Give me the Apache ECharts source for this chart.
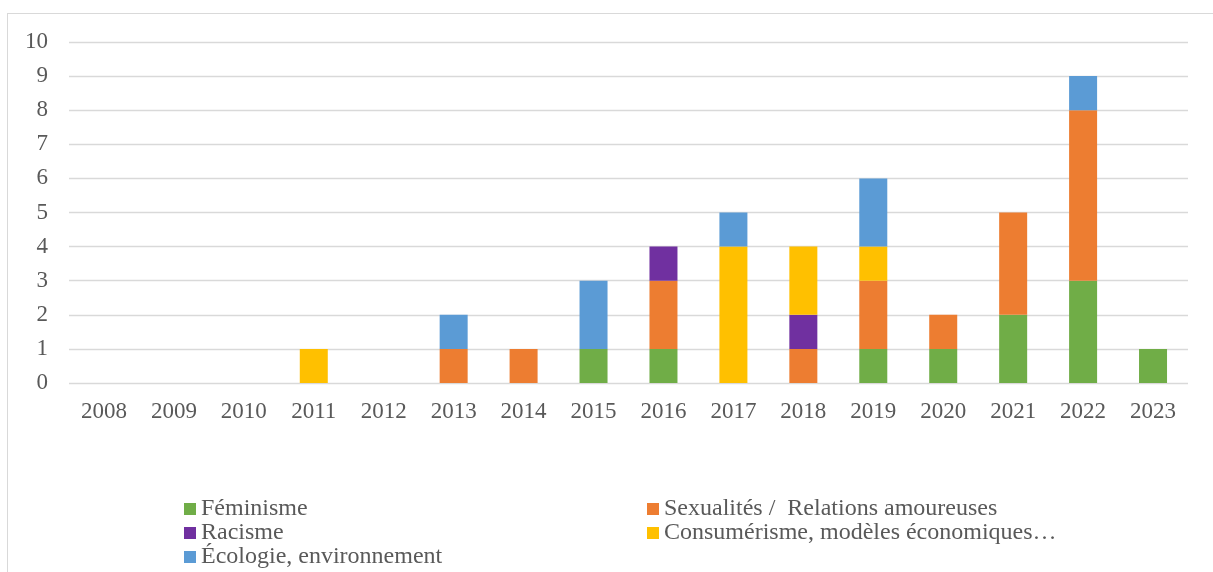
<!DOCTYPE html>
<html><head><meta charset="utf-8">
<script src="https://cdn.jsdelivr.net/npm/echarts@6/dist/echarts.min.js"></script>
<style>html,body{margin:0;padding:0;background:#fff}#frame{position:absolute;left:7px;top:13px;width:1220px;height:600px;border:1px solid #d9d9d9;box-sizing:border-box}#c{position:absolute;left:0;top:0;width:1213px;height:572px}</style>
</head><body><div id="frame"></div><div id="c"></div>
<script>
const years = ['2008','2009','2010','2011','2012','2013','2014','2015','2016','2017','2018','2019','2020','2021','2022','2023'];
const feminisme    = [0,0,0,0,0,0,0,1,1,0,0,1,1,2,3,1];
const sexualites   = [0,0,0,0,0,1,1,0,2,0,1,2,1,3,5,0];
const racisme      = [0,0,0,0,0,0,0,0,1,0,1,0,0,0,0,0];
const consumerisme = [0,0,0,1,0,0,0,0,0,4,2,1,0,0,0,0];
const ecologie     = [0,0,0,0,0,1,0,2,0,1,0,2,0,0,1,0];
const names = ['Féminisme','Sexualités /  Relations amoureuses','Racisme','Consumérisme, modèles économiques…','Écologie, environnement'];
const colors = ['#70AD47','#ED7D31','#7030A0','#FFC000','#5B9BD5'];
const values = [feminisme, sexualites, racisme, consumerisme, ecologie];
const font = 'Liberation Serif';
const chart = echarts.init(document.getElementById('c'));
const legendText = {color:'#595959', fontFamily:font, fontSize:24, lineHeight:23};
chart.setOption({
  animation:false,
  grid:{left:69,right:25,top:42,bottom:189},
  xAxis:{type:'category',data:years,
    axisLine:{show:false},axisTick:{show:false},
    axisLabel:{color:'#595959',fontFamily:font,fontSize:23,margin:17}},
  yAxis:{type:'value',min:0,max:10,interval:1,
    axisLine:{show:false},axisTick:{show:false},
    axisLabel:{color:'#595959',fontFamily:font,fontSize:23,margin:21},
    splitLine:{lineStyle:{color:'#d9d9d9',width:1.3}}},
  legend:[
    {orient:'vertical',left:184,top:497,padding:0,itemWidth:12,itemHeight:12,itemGap:0,icon:'rect',
     data:[names[0],names[2],names[4]],textStyle:legendText},
    {orient:'vertical',left:647,top:497,padding:0,itemWidth:12,itemHeight:12,itemGap:0,icon:'rect',
     data:[names[1],names[3]],textStyle:legendText}
  ],
  series: names.map((n,i)=>({name:n,type:'bar',stack:'t',data:values[i],barWidth:28,
    itemStyle:{color:colors[i]}}))
});
</script></body></html>
